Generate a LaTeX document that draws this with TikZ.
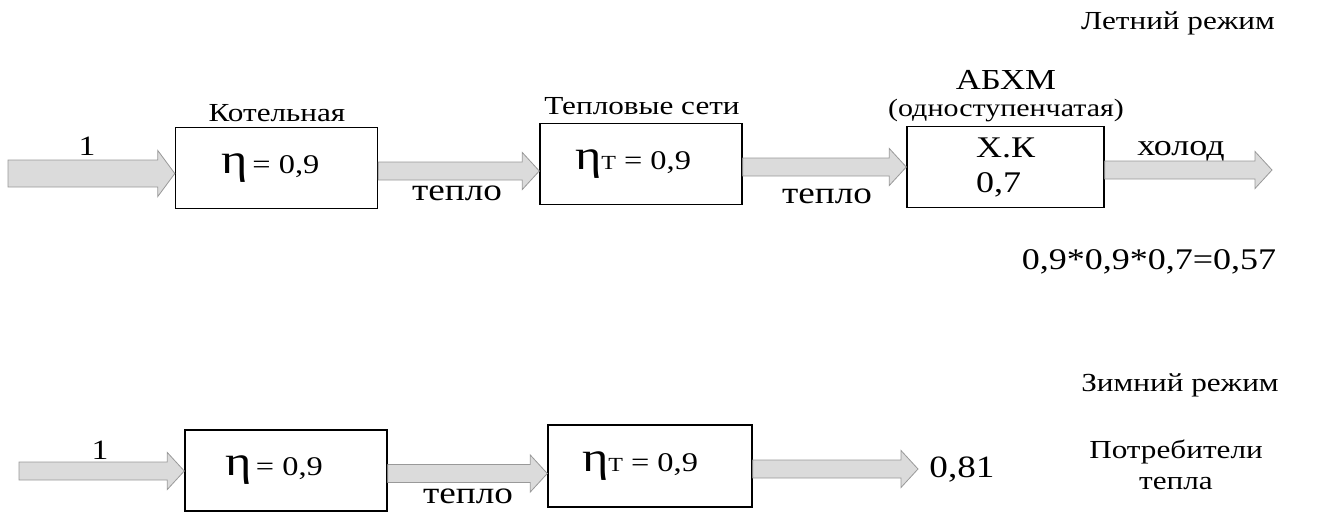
\documentclass[tikz,border=0pt]{standalone}
\usepackage{fontspec}
\setmainfont[FakeStretch=1.2]{Liberation Serif}
\usetikzlibrary{calc}

% wide grey arrow from one point to another, optional half width of the shaft
\newcommand{\heatflow}[3][9pt]{%
	\draw[pipe] let \p1=(#2), \p2=(#3) in
		(\x1,\y1-3pt+#1) -- (\x2-17pt,\y1-3pt+#1) -- (\x2-17pt,\y1-3pt+#1+9.5pt)
		-- (\x2,\y1-3pt)
		-- (\x2-17pt,\y1-3pt-#1-9.5pt) -- (\x2-17pt,\y1-3pt-#1) -- (\x1,\y1-3pt-#1) -- cycle;}

\begin{document}
\begin{tikzpicture}[x=1pt,y=-1pt,
		box/.style={draw,line width=1.4pt,minimum width=202pt,minimum height=81pt,inner sep=0pt,font=\fontsize{27}{30}\selectfont},
		pipe/.style={draw=gray!80,fill=gray!28,line width=0.8pt},
		lbl/.style={inner sep=0pt,font=\fontsize{26}{30}\selectfont}]
		\useasboundingbox (0,0) rectangle (1340,528);

		% SUMMER
		\node[lbl] (summer) at (1178,23) {Летний режим};
		\node[box] (b1) at (276.5,168) {{\fontsize{42}{42}\selectfont η}\,= 0,9\hspace*{12pt}};
		\node[box] (b2) at (641,164) {{\fontsize{42}{42}\selectfont η}{\fontsize{20}{20}\selectfont Т} = 0,9\hspace*{16pt}};
		\node[box,align=left,minimum width=197pt,font=\fontsize{30}{35}\selectfont] (b3) at (1005.5,167) {Х.К\\0,7};
		\coordinate (in1) at (8,170.5);
		\coordinate (out1) at (1272,170);

		\node[lbl,font=\fontsize{28}{30}\selectfont] (one1) at (87,146) {1};
		\node[lbl] (boiler) at (277,113) {Котельная};
		\node[lbl] (net) at (642,106) {Тепловые сети};
		\node[lbl,font=\fontsize{29}{32}\selectfont] (chiller) at (1006,80) {АБХМ};
		\node[lbl,font=\fontsize{25}{30}\selectfont] (stage) at (1006,111) {(одноступенчатая)};
		\node[lbl,font=\fontsize{31}{34}\selectfont] (heat1) at (457,193) {тепло};
		\node[lbl,font=\fontsize{31}{34}\selectfont] (heat2) at (827,196) {тепло};
		\node[lbl,font=\fontsize{30}{32}\selectfont] (cold) at (1181,151) {холод};
		\node[lbl,font=\fontsize{30}{34}\selectfont] (total) at (1149,262) {0,9*0,9*0,7=0,57};

		% WINTER
		\node[lbl] (winter) at (1180,385) {Зимний режим};
		\node[box] (c1) at (286,470.5) {{\fontsize{42}{42}\selectfont η}\,= 0,9\hspace*{24pt}};
		\node[box,minimum width=204pt,minimum height=82pt] (c2) at (650,466) {{\fontsize{42}{42}\selectfont η}{\fontsize{20}{20}\selectfont Т} = 0,9\hspace*{20pt}};
		\coordinate (in2) at (19,468);
		\coordinate (out2) at (918,472);

		\node[lbl,font=\fontsize{28}{30}\selectfont] (one2) at (100,450) {1};
		\node[lbl,font=\fontsize{31}{34}\selectfont] (heat3) at (468,496) {тепло};
		\node[lbl,font=\fontsize{31}{34}\selectfont] (result) at (962,470) {0,81};
		\node[lbl,align=center,font=\fontsize{26}{31}\selectfont] (users) at (1176,465) {Потребители\\тепла};

		% ARROWS
		\heatflow[13.5pt]{in1}{b1.west}
		\heatflow{b1.east}{b2.west}
		\heatflow{b2.east}{b3.west}
		\heatflow{b3.east}{out1}
		\heatflow{in2}{c1.west}
		\heatflow{c1.east}{c2.west}
		\heatflow{c2.east}{out2}
	\end{tikzpicture}
\end{document}
